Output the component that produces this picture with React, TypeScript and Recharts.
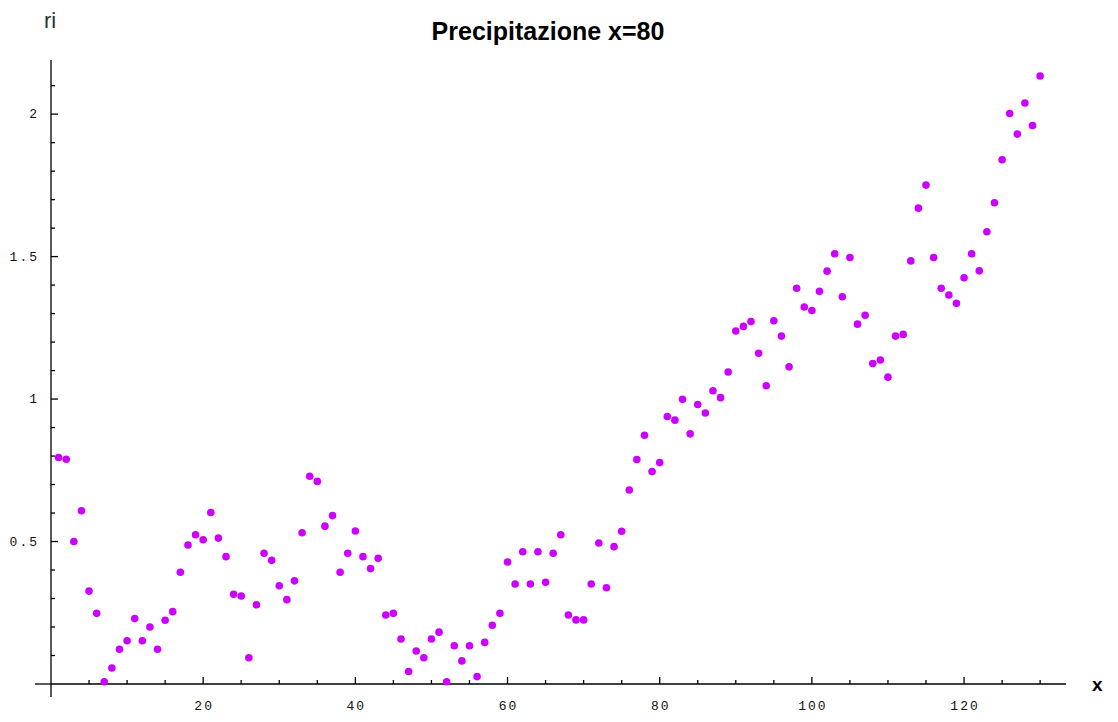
import { Scatter, ScatterChart, XAxis, YAxis } from "recharts";

// ri value for x = 1, 2, 3, ... 130
const riValues = [
  0.795, 0.789, 0.5, 0.608, 0.326, 0.248, 0.008, 0.056, 0.122, 0.152,
  0.23, 0.152, 0.2, 0.122, 0.224, 0.254, 0.392, 0.488, 0.524, 0.506,
  0.602, 0.512, 0.447, 0.315, 0.309, 0.092, 0.278, 0.459, 0.434, 0.345,
  0.296, 0.362, 0.531, 0.729, 0.711, 0.554, 0.591, 0.392, 0.459, 0.537,
  0.447, 0.405, 0.441, 0.242, 0.248, 0.158, 0.044, 0.116, 0.092, 0.158,
  0.182, 0.008, 0.134, 0.081, 0.134, 0.026, 0.146, 0.206, 0.248, 0.428,
  0.351, 0.464, 0.351, 0.464, 0.357, 0.459, 0.524, 0.242, 0.225, 0.225,
  0.351, 0.495, 0.338, 0.482, 0.536, 0.681, 0.788, 0.873, 0.746, 0.777,
  0.939, 0.926, 0.999, 0.878, 0.981, 0.951, 1.029, 1.005, 1.095, 1.239,
  1.255, 1.272, 1.161, 1.047, 1.275, 1.221, 1.113, 1.389, 1.323, 1.311,
  1.378, 1.449, 1.51, 1.359, 1.497, 1.263, 1.294, 1.125, 1.137, 1.077,
  1.221, 1.227, 1.485, 1.67, 1.751, 1.497, 1.389, 1.365, 1.336, 1.426,
  1.51, 1.45, 1.587, 1.689, 1.84, 2.002, 1.93, 2.039, 1.96, 2.134,
];

const xTicks = [
  0, 5, 10, 15, 20, 25, 30, 35, 40, 45, 50, 55, 60, 65, 70, 75, 80, 85, 90,
  95, 100, 105, 110, 115, 120, 125, 130,
];
const xLabelTicks = [20, 40, 60, 80, 100, 120];

const yTicks = [
  0, 0.1, 0.2, 0.3, 0.4, 0.5, 0.6, 0.7, 0.8, 0.9, 1, 1.1, 1.2, 1.3, 1.4, 1.5,
  1.6, 1.7, 1.8, 1.9, 2, 2.1,
];
const yLabelTicks = [0.5, 1, 1.5, 2];

const data = riValues.map((ri, i) => ({ x: i + 1, ri }));

const tickFont = {
  fontFamily: "'Liberation Mono', 'DejaVu Sans Mono', monospace",
  fontSize: 13,
  letterSpacing: 2,
  fill: "#111",
};

const XTick = (props: any) => {
  const { x, y, payload } = props;
  const v = payload.value;
  if (v === 0) {
    // axis runs a little past the origin
    return <line x1={x - 16} x2={x} y1={y} y2={y} stroke="#000" strokeWidth={1.3} />;
  }
  const major = xLabelTicks.includes(v);
  return (
    <g>
      <line x1={x} x2={x} y1={y} y2={y - (major ? 7 : 4)} stroke="#000" strokeWidth={1.3} />
      {major && (
        <text x={x + 1} y={y + 26} textAnchor="middle" {...tickFont}>
          {v}
        </text>
      )}
    </g>
  );
};

const YTick = (props: any) => {
  const { x, y, payload } = props;
  const v = payload.value;
  if (v === 0) {
    return <line x1={x} x2={x} y1={y} y2={y + 13} stroke="#000" strokeWidth={1.3} />;
  }
  const major = yLabelTicks.includes(v);
  return (
    <g>
      <line x1={x} x2={x + (major ? 7 : 4)} y1={y} y2={y} stroke="#000" strokeWidth={1.3} />
      {major && (
        <text x={x - 12} y={y + 4} textAnchor="end" {...tickFont}>
          {v}
        </text>
      )}
    </g>
  );
};

const Dot = (props: any) => {
  const { cx, cy } = props;
  return <circle cx={cx} cy={cy} r={3.8} fill="#cc00ff" />;
};

const App = () => {
  return (
    <div
      style={{
        position: "absolute",
        left: 0,
        top: 0,
        width: 1118,
        height: 722,
        background: "#fff",
      }}
    >
      <ScatterChart
        width={1118}
        height={722}
        margin={{ top: 60, right: 52, left: 11, bottom: 8 }}
      >
        <XAxis
          dataKey="x"
          type="number"
          domain={[0, 133.4]}
          ticks={xTicks}
          interval={0}
          tickSize={0}
          tickMargin={0}
          tickLine={false}
          tick={<XTick />}
          axisLine={{ stroke: "#000", strokeWidth: 1.3 }}
          height={30}
        />
        <YAxis
          dataKey="ri"
          type="number"
          domain={[0, 2.19]}
          ticks={yTicks}
          interval={0}
          tickSize={0}
          tickMargin={0}
          tickLine={false}
          tick={<YTick />}
          axisLine={{ stroke: "#000", strokeWidth: 1.3 }}
          width={40}
        />
        <Scatter data={data} shape={<Dot />} isAnimationActive={false} />
      </ScatterChart>
      <svg
        width={1118}
        height={722}
        style={{ position: "absolute", left: 0, top: 0, pointerEvents: "none" }}
      >
        <text
          x={548}
          y={40}
          textAnchor="middle"
          fontFamily="'Liberation Sans', Arial, sans-serif"
          fontWeight="bold"
          fontSize={25}
          fill="#000"
        >
          Precipitazione x=80
        </text>
        <text
          x={44}
          y={28}
          fontFamily="'Liberation Sans', Arial, sans-serif"
          fontSize={22}
          fill="#2b3137"
        >
          ri
        </text>
        <text
          x={1092}
          y={691}
          fontFamily="'Liberation Sans', Arial, sans-serif"
          fontWeight="bold"
          fontSize={19}
          fill="#000"
        >
          x
        </text>
      </svg>
    </div>
  );
};

export default App;
